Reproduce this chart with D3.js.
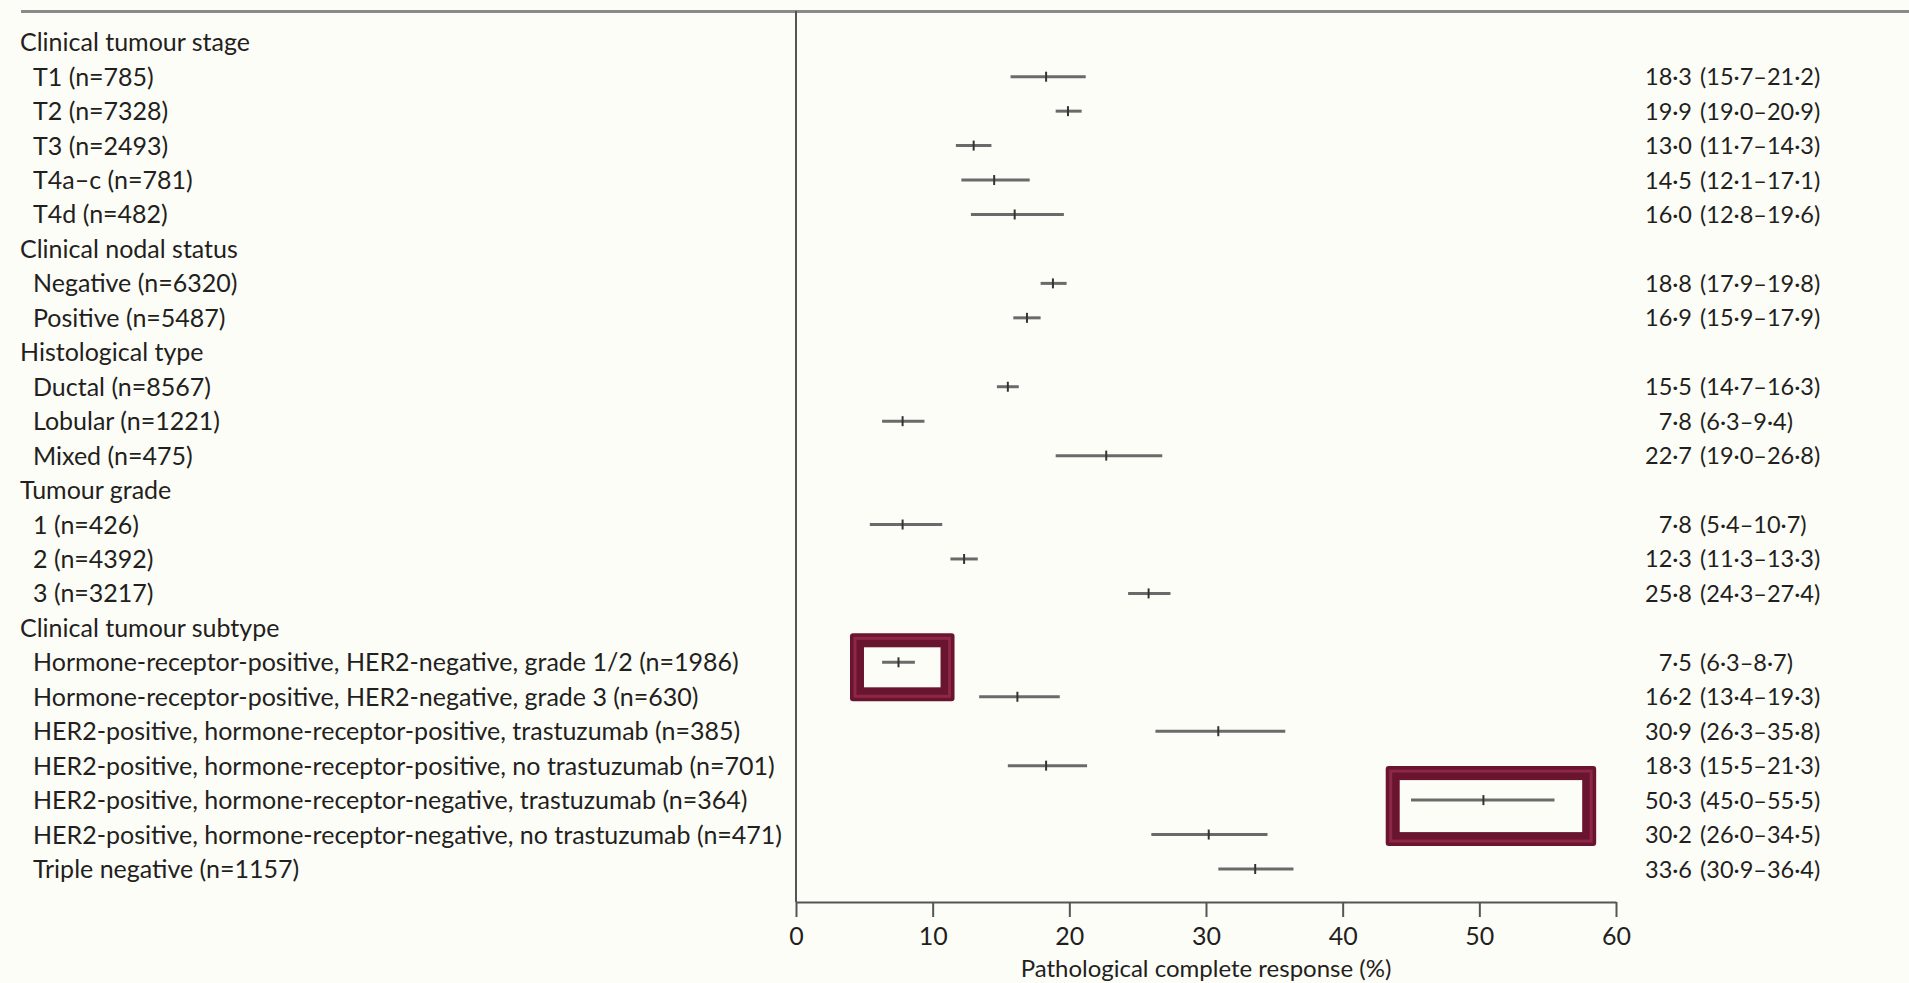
<!DOCTYPE html>
<html>
<head>
<meta charset="utf-8">
<script src="https://cdn.jsdelivr.net/npm/d3@7"></script>
<style>
  html, body { margin: 0; padding: 0; background: #fdfdf8; }
  svg { display: block; }
  text { font-family: Lato, "Open Sans", sans-serif; fill: #231f20; }
</style>
</head>
<body>
<svg id="chart" width="1909" height="983"></svg>
<script>
// ---- DATA ----
const rowLabels = [
  "Clinical tumour stage",
  "T1 (n=785)",
  "T2 (n=7328)",
  "T3 (n=2493)",
  "T4a\u2013c (n=781)",
  "T4d (n=482)",
  "Clinical nodal status",
  "Negative (n=6320)",
  "Positive (n=5487)",
  "Histological type",
  "Ductal (n=8567)",
  "Lobular (n=1221)",
  "Mixed (n=475)",
  "Tumour grade",
  "1 (n=426)",
  "2 (n=4392)",
  "3 (n=3217)",
  "Clinical tumour subtype",
  "Hormone-receptor-positive, HER2-negative, grade 1/2 (n=1986)",
  "Hormone-receptor-positive, HER2-negative, grade 3 (n=630)",
  "HER2-positive, hormone-receptor-positive, trastuzumab (n=385)",
  "HER2-positive, hormone-receptor-positive, no trastuzumab (n=701)",
  "HER2-positive, hormone-receptor-negative, trastuzumab (n=364)",
  "HER2-positive, hormone-receptor-negative, no trastuzumab (n=471)",
  "Triple negative (n=1157)"
];
const rowIsHeader = [1,0,0,0,0,0,1,0,0,1,0,0,0,1,0,0,0,1,0,0,0,0,0,0,0];
const estimates = [null,18.3,19.9,13.0,14.5,16.0,null,18.8,16.9,null,15.5,7.8,22.7,null,7.8,12.3,25.8,null,7.5,16.2,30.9,18.3,50.3,30.2,33.6];
const lowerCI   = [null,15.7,19.0,11.7,12.1,12.8,null,17.9,15.9,null,14.7,6.3,19.0,null,5.4,11.3,24.3,null,6.3,13.4,26.3,15.5,45.0,26.0,30.9];
const upperCI   = [null,21.2,20.9,14.3,17.1,19.6,null,19.8,17.9,null,16.3,9.4,26.8,null,10.7,13.3,27.4,null,8.7,19.3,35.8,21.3,55.5,34.5,36.4];
const xTicks = [0,10,20,30,40,50,60];
const xTitle = "Pathological complete response (%)";
// highlighted rows (annotation boxes) with their value span
const highlightRows = [18, 22];
const highlightFrom = [3.95, 43.15];
const highlightTo   = [11.6, 58.55];

// ---- LAYOUT ----
const W = 1909, H = 983;
const svg = d3.select("#chart");
svg.append("rect").attr("width", W).attr("height", H).attr("fill", "#fdfdf8");

const x = d3.scaleLinear().domain([0, 60]).range([796, 1616]);
const y = d3.scalePoint().domain(d3.range(rowLabels.length)).range([42.25, 869]);
const axisY = 902;

// top rule
svg.append("line").attr("x1", 21).attr("x2", W).attr("y1", 11.5).attr("y2", 11.5)
  .attr("stroke", "#8a8a8a").attr("stroke-width", 3);
// vertical axis line
svg.append("line").attr("x1", x(0)).attr("x2", x(0)).attr("y1", 11).attr("y2", axisY)
  .attr("stroke", "#555").attr("stroke-width", 2);

// highlight boxes (drawn under marks)
const hl = svg.append("g");
highlightRows.forEach((r, i) => {
  const x0 = x(highlightFrom[i]), x1 = x(highlightTo[i]);
  const top = y(r) - (r === 22 ? 34 : 29), bot = y(r) + (r === 22 ? 46 : 39);
  hl.append("rect").attr("x", x0).attr("y", top).attr("width", x1 - x0).attr("height", bot - top)
    .attr("rx", 3).attr("fill", "#6a1530");
  hl.append("rect").attr("x", x0 + 5).attr("y", top + 5).attr("width", x1 - x0 - 10).attr("height", bot - top - 10)
    .attr("fill", "none").attr("stroke", "#8e2646").attr("stroke-width", 3);
  hl.append("rect").attr("x", x0 + 14).attr("y", top + 14).attr("width", x1 - x0 - 28).attr("height", bot - top - 28)
    .attr("fill", "#fdfdf8");
});

// left labels
svg.append("g").selectAll("text").data(rowLabels).join("text")
  .attr("x", (d, i) => rowIsHeader[i] ? 20 : 33)
  .attr("y", (d, i) => y(i) + 9)
  .attr("font-size", 25)
  .text(d => d);

// CI lines & ticks
const rowsWithData = d3.range(rowLabels.length).filter(i => estimates[i] != null);
const marks = svg.append("g");
marks.selectAll("line.ci").data(rowsWithData).join("line").attr("class", "ci")
  .attr("x1", i => x(lowerCI[i])).attr("x2", i => x(upperCI[i]))
  .attr("y1", i => y(i)).attr("y2", i => y(i))
  .attr("stroke", "#6a6a6a").attr("stroke-width", 3);
marks.selectAll("line.est").data(rowsWithData).join("line").attr("class", "est")
  .attr("x1", i => x(estimates[i])).attr("x2", i => x(estimates[i]))
  .attr("y1", i => y(i) - 5).attr("y2", i => y(i) + 5)
  .attr("stroke", "#333").attr("stroke-width", 2);

// right-hand values
const f = v => d3.format(".1f")(v).replace(".", "\u00b7");
const right = svg.append("g");
right.selectAll("text.estv").data(rowsWithData).join("text").attr("class", "estv")
  .attr("x", 1692).attr("y", i => y(i) + 8.5).attr("text-anchor", "end")
  .attr("font-size", 23.5).text(i => f(estimates[i]));
right.selectAll("text.civ").data(rowsWithData).join("text").attr("class", "civ")
  .attr("x", 1700).attr("y", i => y(i) + 8.5)
  .attr("font-size", 23.5).text(i => "(" + f(lowerCI[i]) + "\u2013" + f(upperCI[i]) + ")");

// bottom axis
const ax = svg.append("g").attr("transform", `translate(0,${axisY})`)
  .call(d3.axisBottom(x).tickValues(xTicks).tickSize(15).tickSizeOuter(0).tickFormat(d3.format("d")));
ax.select(".domain").attr("stroke", "#555").attr("stroke-width", 2);
ax.selectAll(".tick line").attr("stroke", "#555").attr("stroke-width", 2);
ax.selectAll(".tick text").attr("font-size", 25).attr("font-family", "Lato, sans-serif")
  .attr("fill", "#231f20").attr("y", 43).attr("dy", 0);

svg.append("text").attr("x", (x(0) + x(60)) / 2).attr("y", 977).attr("text-anchor", "middle")
  .attr("font-size", 24).text(xTitle);
</script>
</body>
</html>
